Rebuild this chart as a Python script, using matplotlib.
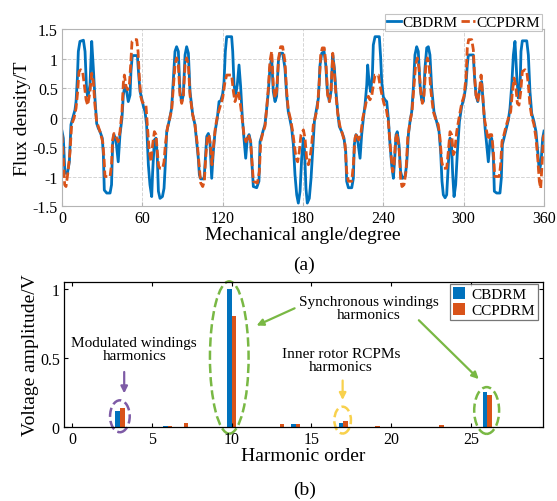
import matplotlib
matplotlib.use("Agg")
import matplotlib.pyplot as plt
from matplotlib.patches import Ellipse

plt.rcParams['font.family'] = ['Liberation Serif', 'DejaVu Serif']
plt.rcParams['axes.unicode_minus'] = False
plt.rcParams['mathtext.fontset'] = 'stix'

BLUE = '#0072BD'
ORANGE = '#D95319'

# ---- (a) air-gap flux density ----
angle_cb = [0, 1, 1.7, 2.2, 4, 5.5, 6.7, 8, 9.7, 10.5, 11.5, 12.2, 13.4, 16, 17.2, 18.4, 19.4, 20.9,
            22.2, 23.4, 24.6, 25.9, 27.1, 28.4, 30.1, 30.9, 31.6, 33.4, 35.9, 37, 37.8, 38.8, 40.3, 42,
            43.3, 44.8, 45.8, 47, 48.3, 49.5, 50.8, 51.5, 52.5, 56.3, 57.3, 58.3, 59.5, 60.8, 62, 63.2,
            64.5, 65.7, 67, 67.7, 69, 70.2, 71.2, 72, 73.2, 75, 76.2, 77, 78.2, 80.2, 81.9, 83.2, 84.4,
            85.6, 86.9, 88.1, 89.4, 90.6, 91.9, 93.1, 94.4, 95.6, 97.6, 99.3, 100.6, 101.8, 102.6, 103.6,
            106.1, 106.8, 108.1, 109.3, 110.5, 111.8, 113, 114.3, 116, 117.3, 118.5, 120, 121, 122, 123,
            126.7, 127.5, 128.5, 129.7, 130.9, 132.2, 133.4, 134.7, 135.9, 137.2, 138.4, 139.7, 140.9,
            141.9, 142.9, 145.4, 147.1, 147.9, 149.1, 150.4, 151.6, 152.9, 154.1, 155.3, 156.6, 157.8,
            159.1, 160.3, 161.6, 162.8, 164.8, 166.5, 167.8, 169, 170.3, 171.5, 172.8, 174, 175.3, 176.5,
            177.8, 179, 180.3, 181.2, 182.2, 183.2, 184.7, 186, 187.2, 188.5, 190.2, 191.5, 192.7, 194,
            195.7, 197, 198.2, 199.7, 200.9, 202.2, 203.4, 204.6, 205.9, 207.1, 208.9, 210.6, 211.9,
            212.6, 213.9, 216.4, 217.6, 218.3, 219.6, 220.8, 222.6, 223.8, 225.1, 226.3, 227.6, 228.3,
            229.3, 230.5, 231.8, 232.5, 233.8, 237, 238, 238.8, 240, 241.2, 242.5, 243.7, 245, 246.2,
            247.5, 248.5, 249.5, 250.4, 251.7, 252.9, 254.2, 256.2, 257.4, 258.7, 259.9, 261.2, 262.4,
            263.6, 264.9, 266.1, 267.4, 268.6, 269.9, 271.1, 272.4, 273.6, 274.8, 276.1, 277.8, 279.8,
            281.6, 282.8, 283.8, 284.8, 286.1, 287.3, 288.5, 289.8, 290.8, 291.8, 292.8, 294, 295.3,
            296.8, 298.5, 300.2, 301.7, 302.7, 303.5, 307.2, 308, 309.2, 310.5, 311.7, 313.4, 314.7, 316,
            317.2, 318.4, 319.7, 320.9, 322.2, 322.9, 324.6, 327.1, 328.1, 328.9, 330.1, 331.6, 333.4,
            334.6, 335.9, 337.1, 338.3, 339.6, 340.8, 342.1, 342.8, 343.8, 347.1, 348.3, 349.5, 350.8,
            352.5, 354, 355.3, 356.5, 357.8, 359, 360]
flux_cb = [-0.23, -0.35, -0.69, -0.94, -0.95, -0.75, -0.12, -0.01, 0.13, 0.27, 0.67, 1.12, 1.29, 1.31,
           1.12, 0.44, 0.36, 0.55, 1.29, 0.84, 0.33, -0.10, -0.18, -0.24, -0.35, -0.63, -1.23, -1.28,
           -1.28, -1.14, -0.46, -0.29, -0.38, -0.75, -0.29, -0.01, 0.38, 0.55, 0.44, 0.27, 0.38, 0.78,
           1.05, 1.05, 0.72, 0.44, 0.33, 0.19, 0.10, -0.12, -0.80, -1.14, -1.34, -0.92, -0.38, -0.35,
           -0.69, -1.25, -1.37, -1.34, -1.20, -0.86, -0.24, -0.04, 0.16, 0.67, 1.12, 1.20, 1.12, 0.44,
           0.27, 0.38, 1.06, 1.20, 1.09, 0.44, 0.05, -0.12, -0.41, -0.69, -0.97, -1.04, -1.04, -0.80,
           -0.32, -0.27, -0.41, -1.03, -0.58, -0.24, -0.01, 0.27, 0.28, 0.40, 0.60, 1.12, 1.37, 1.37,
           1.12, 0.55, 0.38, 0.55, 0.89, 0.53, -0.01, -0.35, -0.69, -0.35, -0.29, -0.41, -0.80, -1.17,
           -1.19, -1.08, -0.41, -0.32, -0.21, -0.12, 0.16, 0.44, 0.84, 1.01, 0.44, 0.27, 0.36, 0.95,
           1.09, 1.09, 0.84, 0.38, 0.10, -0.04, -0.18, -0.46, -0.97, -1.31, -1.45, -1.25, -0.69, -0.35,
           -0.58, -1.20, -1.45, -1.37, -1.03, -0.58, -0.07, 0.16, 0.33, 0.89, 1.09, 1.12, 0.89, 0.44,
           0.27, 0.44, 1.06, 0.84, 0.44, 0.10, -0.15, -0.24, -0.35, -0.58, -1.08, -1.19, -1.19, -1.03,
           -0.46, -0.29, -0.38, -0.69, -0.29, -0.01, 0.21, 0.55, 0.89, 0.61, 0.44, 0.72, 1.23, 1.37,
           1.37, 1.01, 0.60, 0.35, 0.30, 0.27, -0.01, -0.46, -0.80, -1.03, -0.69, -0.29, -0.24, -0.46,
           -0.92, -1.03, -1.00, -0.80, -0.29, -0.07, 0.10, 0.50, 1.06, 1.20, 1.12, 0.55, 0.30, 0.27,
           0.84, 1.18, 1.20, 1.06, 0.50, 0.10, -0.07, -0.24, -0.58, -1.08, -1.31, -1.36, -1.31, -0.80,
           -0.35, -0.41, -0.97, -1.34, -1.14, -0.58, -0.07, 0.19, 0.33, 0.55, 0.89, 1.06, 1.06, 0.72,
           0.38, 0.27, 0.44, 0.61, 0.21, -0.18, -0.46, -0.75, -0.38, -0.35, -0.69, -1.25, -1.28, -1.28,
           -1.03, -0.46, -0.35, -0.21, -0.04, 0.16, 0.55, 1.06, 1.29, 0.72, 0.33, 0.50, 1.12, 1.30,
           1.30, 1.06, 0.44, 0.07, -0.07, -0.24, -0.58, -0.92, -0.75, -0.35, -0.23]

angle_cc = [0, 1, 2, 3, 4.5, 6, 7.2, 9, 10.5, 11.7, 12.7, 14, 15.4, 16.7, 18, 19.2, 20.9, 22.2, 23.4,
            24.6, 25.9, 28.4, 30.4, 31.4, 32.1, 35.9, 37, 37.8, 38.8, 40.3, 42, 43.3, 44.8, 45.8, 46.6,
            47.8, 49, 50.3, 51.3, 52.3, 53.8, 55.8, 56.8, 57.8, 58.8, 60, 61.2, 62.7, 63.7, 65.2, 66.5,
            67.7, 69, 70.2, 71.2, 72.2, 73.2, 75.2, 76.2, 77.2, 78.7, 80.2, 81.9, 83.2, 84.4, 85.6, 86.9,
            88.1, 89.4, 90.6, 91.9, 93.1, 94.4, 95.6, 97.6, 99.3, 101.1, 102.6, 103.6, 105.1, 106.3,
            107.3, 108.5, 109.8, 111, 112, 113, 114.5, 116, 118, 120, 121.7, 123, 126.7, 128, 129.2,
            130.4, 131.7, 133, 134.2, 135.9, 137.4, 139.2, 140.9, 142.1, 142.9, 145.9, 147.4, 148.4,
            149.9, 151.6, 152.9, 154.1, 155.3, 156.6, 157.8, 159.1, 160.3, 161.8, 163.3, 164.8, 166.5,
            167.8, 169, 170.8, 172.3, 173.5, 174.8, 176, 177.2, 178.5, 180.3, 181.5, 182.7, 184, 185.2,
            186.5, 187.7, 189, 190.7, 192, 193.2, 194.4, 195.9, 197.2, 198.4, 199.7, 200.9, 202.2,
            203.4, 204.6, 205.9, 207.6, 209.6, 211.4, 212.6, 213.9, 216.4, 217.6, 218.8, 220.1, 221.6,
            223.1, 224.6, 226.3, 227.5, 228.8, 230, 231.3, 232.5, 233.8, 236.3, 237.5, 238.8, 240.5,
            242, 243.7, 245.5, 247, 248, 249.2, 250.4, 251.9, 252.9, 253.9, 255.4, 256.9, 258.2, 259.9,
            261.4, 262.9, 264.1, 265.4, 266.6, 267.9, 269.1, 270.4, 271.6, 272.9, 274.1, 275.3, 277.3,
            279.3, 281, 282.3, 283.6, 284.8, 287.3, 288.5, 289.8, 291, 292.3, 293.3, 294.8, 296.5,
            298.5, 300.2, 301.7, 302.7, 303.7, 306, 307.2, 308.2, 309.2, 310.5, 311.7, 313, 314.2,
            315.4, 317.2, 318.4, 319.7, 320.9, 322.2, 323.2, 326.6, 327.6, 328.6, 330.1, 331.6, 333.4,
            335.1, 336.4, 337.6, 338.8, 340.1, 341.3, 342.6, 343.8, 345.8, 347.1, 348.3, 349.5, 350.8,
            352.5, 354, 355.3, 356.5, 357.5, 358.5, 359.5, 360]
flux_cc = [-0.29, -0.69, -1.14, -1.17, -0.92, -0.58, -0.12, -0.01, 0.16, 0.44, 0.78, 0.81, 0.78, 0.55,
           0.30, 0.21, 0.44, 0.75, 0.61, 0.21, -0.07, -0.24, -0.41, -0.69, -1.00, -1.00, -0.80, -0.38,
           -0.27, -0.32, -0.41, -0.24, 0.10, 0.58, 0.72, 0.53, 0.47, 0.55, 0.89, 1.29, 1.32, 1.32, 1.12,
           0.67, 0.36, 0.26, 0.24, 0.21, -0.12, -0.58, -0.75, -0.46, -0.24, -0.29, -0.58, -0.83, -0.86,
           -0.86, -0.75, -0.46, -0.18, -0.04, 0.13, 0.53, 0.89, 1.01, 0.89, 0.38, 0.24, 0.36, 0.89,
           1.01, 0.89, 0.38, 0.05, -0.12, -0.46, -0.86, -1.11, -1.17, -1.08, -0.69, -0.35, -0.29, -0.52,
           -0.80, -0.52, -0.18, 0.02, 0.18, 0.33, 0.60, 0.72, 0.72, 0.44, 0.27, 0.36, 0.44, 0.27, 0.05,
           -0.29, -0.41, -0.29, -0.41, -0.80, -1.08, -1.11, -0.92, -0.41, -0.27, -0.15, 0.16, 0.50,
           0.95, 1.12, 0.55, 0.33, 0.44, 1.01, 1.20, 1.20, 0.95, 0.44, 0.13, -0.04, -0.24, -0.46, -0.69,
           -0.75, -0.58, -0.29, -0.21, -0.35, -0.69, -0.80, -0.69, -0.46, -0.12, -0.01, 0.16, 0.55,
           1.06, 1.18, 1.18, 0.89, 0.38, 0.27, 0.44, 1.09, 0.78, 0.38, 0.07, -0.15, -0.29, -0.46, -0.92,
           -1.08, -1.08, -0.80, -0.35, -0.27, -0.38, -0.29, -0.01, 0.16, 0.30, 0.36, 0.30, 0.36, 0.55,
           0.72, 0.72, 0.55, 0.40, 0.23, 0.17, -0.07, -0.58, -0.92, -0.80, -0.35, -0.27, -0.58, -1.03,
           -1.17, -1.14, -0.92, -0.35, -0.07, 0.10, 0.53, 0.89, 1.01, 0.84, 0.44, 0.24, 0.38, 0.84,
           1.01, 0.92, 0.50, 0.10, -0.04, -0.12, -0.35, -0.75, -0.86, -0.86, -0.58, -0.24, -0.29, -0.63,
           -0.58, -0.24, -0.01, 0.24, 0.36, 0.67, 1.18, 1.32, 1.32, 1.15, 0.67, 0.38, 0.27, 0.44, 0.72,
           0.38, -0.01, -0.24, -0.38, -0.29, -0.29, -0.58, -1.00, -1.00, -0.80, -0.41, -0.29, -0.15,
           -0.01, 0.10, 0.44, 0.67, 0.55, 0.24, 0.21, 0.44, 0.78, 0.81, 0.78, 0.55, 0.21, 0.02, -0.12,
           -0.35, -0.69, -1.08, -1.20, -0.80, -0.35, -0.29]

# ---- (b) back-EMF harmonic spectrum ----
orders = list(range(0, 30))
amp_cb = [0, 0, 0, 0.115, 0, 0, 0.01, 0, 0, 0, 1.0, 0, 0, 0, 0.02, 0, 0, 0.03, 0, 0,
          0, 0, 0, 0, 0, 0, 0.258, 0, 0, 0]
amp_cc = [0, 0.003, 0, 0.135, 0, 0, 0.01, 0.03, 0, 0, 0.807, 0, 0, 0.025, 0.02, 0, 0, 0.042, 0, 0.005,
          0, 0, 0, 0.012, 0, 0, 0.234, 0, 0, 0]

fig = plt.figure(figsize=(5.57, 5.02), dpi=100)

# top axes
ax1 = fig.add_axes([0.1113, 0.5876, 0.8654, 0.3526])
ax1.plot(angle_cb, flux_cb, color=BLUE, lw=2.0, label='CBDRM')
ax1.plot(angle_cc, flux_cc, color=ORANGE, lw=2.0, ls=(0, (3, 1.2)), label='CCPDRM')
ax1.set_xlim(0, 360)
ax1.set_ylim(-1.5, 1.5)
ax1.set_xticks(range(0, 361, 60))
ax1.set_yticks([-1.5, -1, -0.5, 0, 0.5, 1, 1.5])
ax1.set_yticklabels(['-1.5', '-1', '-0.5', '0', '0.5', '1', '1.5'])
ax1.grid(True, ls='--', color='#d4d4d4', lw=0.7)
for s in ax1.spines.values():
    s.set_color('#b4b4b4')
    s.set_linewidth(0.8)
ax1.tick_params(direction='in', length=3, color='#b4b4b4', labelsize=11.5, pad=3)
ax1.set_ylabel('Flux density/T', fontsize=14, labelpad=1)
ax1.set_xlabel('Mechanical angle/degree', fontsize=14, labelpad=0)
leg1 = ax1.legend(loc='lower right', bbox_to_anchor=(0.995, 0.99), ncol=2, fontsize=11,
                  handlelength=0.9, handletextpad=0.1, columnspacing=0.25, borderpad=0.1,
                  borderaxespad=0.0, frameon=True, fancybox=False, edgecolor='#b4b4b4')
leg1.get_frame().set_linewidth(0.8)
fig.text(0.546, 0.472, '(a)', ha='center', va='center', fontsize=14)

# bottom axes
ax2 = fig.add_axes([0.1149, 0.1474, 0.86, 0.2889])
w = 0.29
ax2.bar([n - w / 2 for n in orders], amp_cb, width=w, color=BLUE, label='CBDRM')
ax2.bar([n + w / 2 for n in orders], amp_cc, width=w, color=ORANGE, label='CCPDRM')
ax2.set_xlim(-0.5, 29.5)
ax2.set_ylim(0, 1.054)
ax2.set_xticks([0, 5, 10, 15, 20, 25])
ax2.set_yticks([0, 0.5, 1])
ax2.set_yticklabels(['0', '0.5', '1'])
ax2.tick_params(direction='in', length=3, top=True, right=True, labelsize=11.5, pad=3)
for s in ax2.spines.values():
    s.set_linewidth(0.9)
ax2.set_ylabel('Voltage amplitude/V', fontsize=14, labelpad=1)
ax2.set_xlabel('Harmonic order', fontsize=14, labelpad=0)
leg2 = ax2.legend(loc='upper right', bbox_to_anchor=(0.99, 0.985), fontsize=11, handlelength=0.8,
                  handleheight=0.8, handletextpad=0.4, borderpad=0.2, labelspacing=0.1,
                  frameon=True, fancybox=False, edgecolor='#555555', borderaxespad=0.0)
leg2.get_frame().set_linewidth(0.9)
fig.text(0.546, 0.024, '(b)', ha='center', va='center', fontsize=14)

PURPLE = '#7E5BA6'
GREEN = '#79B844'
YELLOW = '#F8D14D'

ax2.add_patch(Ellipse((3.0, 0.078), 1.23, 0.232, fill=False, ls='--', lw=1.8, ec=PURPLE, clip_on=False))
ax2.add_patch(Ellipse((9.85, 0.505), 2.42, 1.107, fill=False, ls='--', lw=1.8, ec=GREEN, clip_on=False))
ax2.add_patch(Ellipse((25.97, 0.12), 1.56, 0.34, fill=False, ls='--', lw=1.8, ec=GREEN, clip_on=False))
ax2.add_patch(Ellipse((16.95, 0.05), 1.04, 0.195, fill=False, ls='--', lw=1.8, ec=YELLOW, clip_on=False))

ax2.text(3.9, 0.565, 'Modulated windings\nharmonics', ha='center', va='center', fontsize=11,
         linespacing=1.0)
ax2.annotate('', xy=(3.27, 0.224), xytext=(3.27, 0.42),
             arrowprops=dict(arrowstyle='-|>', color=PURPLE, lw=1.6, mutation_scale=10))
ax2.text(18.6, 0.862, 'Synchronous windings\nharmonics', ha='center', va='center', fontsize=11,
         linespacing=1.0)
ax2.annotate('', xy=(11.4, 0.729), xytext=(14.1, 0.871),
             arrowprops=dict(arrowstyle='-|>', color=GREEN, lw=1.6, mutation_scale=10))
ax2.annotate('', xy=(25.6, 0.334), xytext=(21.6, 0.79),
             arrowprops=dict(arrowstyle='-|>', color=GREEN, lw=1.6, mutation_scale=10))
ax2.text(16.84, 0.485, 'Inner rotor RCPMs\nharmonics', ha='center', va='center', fontsize=11,
         linespacing=1.0)
ax2.annotate('', xy=(16.95, 0.176), xytext=(16.95, 0.358),
             arrowprops=dict(arrowstyle='-|>', color=YELLOW, lw=1.6, mutation_scale=10))

fig.savefig('out.png', dpi=100)
